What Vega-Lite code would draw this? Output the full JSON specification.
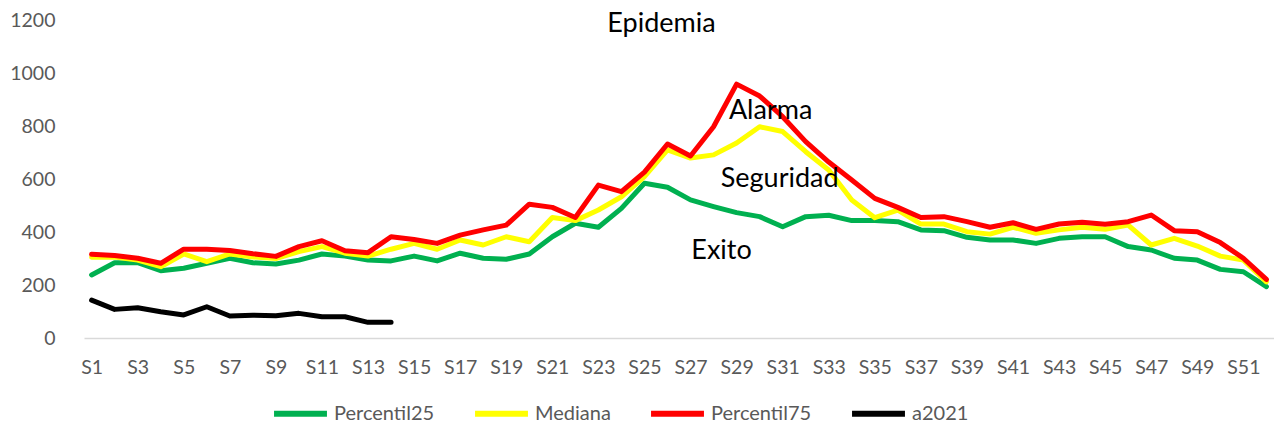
{
  "$schema": "https://vega.github.io/schema/vega-lite/v6.json",
  "autosize": {"type": "none"},
  "padding": {"left": 84, "top": 20, "right": 0, "bottom": 87},
  "width": 1190,
  "height": 318,
  "background": "white",
  "config": {
    "view": {"stroke": null},
    "font": "Lato"
  },
  "datasets": {
    "series": [
      {"semana": "S1", "Percentil25": 238, "Mediana": 305, "Percentil75": 316, "a2021": 143},
      {"semana": "S2", "Percentil25": 284, "Mediana": 306, "Percentil75": 311, "a2021": 108},
      {"semana": "S3", "Percentil25": 284, "Mediana": 294, "Percentil75": 301, "a2021": 114},
      {"semana": "S4", "Percentil25": 254, "Mediana": 269, "Percentil75": 282, "a2021": 99},
      {"semana": "S5", "Percentil25": 263, "Mediana": 317, "Percentil75": 335, "a2021": 87},
      {"semana": "S6", "Percentil25": 282, "Mediana": 288, "Percentil75": 335, "a2021": 118},
      {"semana": "S7", "Percentil25": 301, "Mediana": 317, "Percentil75": 330, "a2021": 83},
      {"semana": "S8", "Percentil25": 284, "Mediana": 306, "Percentil75": 318, "a2021": 86},
      {"semana": "S9", "Percentil25": 279, "Mediana": 300, "Percentil75": 308, "a2021": 84},
      {"semana": "S10", "Percentil25": 294, "Mediana": 326, "Percentil75": 345, "a2021": 93},
      {"semana": "S11", "Percentil25": 317, "Mediana": 345, "Percentil75": 367, "a2021": 80},
      {"semana": "S12", "Percentil25": 309, "Mediana": 320, "Percentil75": 329, "a2021": 80},
      {"semana": "S13", "Percentil25": 294, "Mediana": 309, "Percentil75": 322, "a2021": 59},
      {"semana": "S14", "Percentil25": 291, "Mediana": 335, "Percentil75": 382, "a2021": 59},
      {"semana": "S15", "Percentil25": 309, "Mediana": 357, "Percentil75": 372, "a2021": null},
      {"semana": "S16", "Percentil25": 291, "Mediana": 335, "Percentil75": 357, "a2021": null},
      {"semana": "S17", "Percentil25": 320, "Mediana": 370, "Percentil75": 388, "a2021": null},
      {"semana": "S18", "Percentil25": 301, "Mediana": 351, "Percentil75": 408, "a2021": null},
      {"semana": "S19", "Percentil25": 297, "Mediana": 382, "Percentil75": 426, "a2021": null},
      {"semana": "S20", "Percentil25": 317, "Mediana": 363, "Percentil75": 505, "a2021": null},
      {"semana": "S21", "Percentil25": 382, "Mediana": 455, "Percentil75": 493, "a2021": null},
      {"semana": "S22", "Percentil25": 433, "Mediana": 443, "Percentil75": 455, "a2021": null},
      {"semana": "S23", "Percentil25": 418, "Mediana": 483, "Percentil75": 577, "a2021": null},
      {"semana": "S24", "Percentil25": 489, "Mediana": 533, "Percentil75": 552, "a2021": null},
      {"semana": "S25", "Percentil25": 584, "Mediana": 609, "Percentil75": 626, "a2021": null},
      {"semana": "S26", "Percentil25": 569, "Mediana": 710, "Percentil75": 732, "a2021": null},
      {"semana": "S27", "Percentil25": 521, "Mediana": 679, "Percentil75": 687, "a2021": null},
      {"semana": "S28", "Percentil25": 496, "Mediana": 691, "Percentil75": 797, "a2021": null},
      {"semana": "S29", "Percentil25": 473, "Mediana": 736, "Percentil75": 958, "a2021": null},
      {"semana": "S30", "Percentil25": 458, "Mediana": 797, "Percentil75": 913, "a2021": null},
      {"semana": "S31", "Percentil25": 420, "Mediana": 779, "Percentil75": 835, "a2021": null},
      {"semana": "S32", "Percentil25": 458, "Mediana": 703, "Percentil75": 741, "a2021": null},
      {"semana": "S33", "Percentil25": 463, "Mediana": 634, "Percentil75": 664, "a2021": null},
      {"semana": "S34", "Percentil25": 443, "Mediana": 521, "Percentil75": 596, "a2021": null},
      {"semana": "S35", "Percentil25": 443, "Mediana": 454, "Percentil75": 527, "a2021": null},
      {"semana": "S36", "Percentil25": 439, "Mediana": 483, "Percentil75": 493, "a2021": null},
      {"semana": "S37", "Percentil25": 408, "Mediana": 430, "Percentil75": 455, "a2021": null},
      {"semana": "S38", "Percentil25": 405, "Mediana": 430, "Percentil75": 458, "a2021": null},
      {"semana": "S39", "Percentil25": 380, "Mediana": 401, "Percentil75": 439, "a2021": null},
      {"semana": "S40", "Percentil25": 370, "Mediana": 392, "Percentil75": 418, "a2021": null},
      {"semana": "S41", "Percentil25": 370, "Mediana": 418, "Percentil75": 435, "a2021": null},
      {"semana": "S42", "Percentil25": 357, "Mediana": 395, "Percentil75": 410, "a2021": null},
      {"semana": "S43", "Percentil25": 376, "Mediana": 408, "Percentil75": 430, "a2021": null},
      {"semana": "S44", "Percentil25": 382, "Mediana": 418, "Percentil75": 437, "a2021": null},
      {"semana": "S45", "Percentil25": 382, "Mediana": 410, "Percentil75": 429, "a2021": null},
      {"semana": "S46", "Percentil25": 345, "Mediana": 426, "Percentil75": 439, "a2021": null},
      {"semana": "S47", "Percentil25": 332, "Mediana": 351, "Percentil75": 464, "a2021": null},
      {"semana": "S48", "Percentil25": 301, "Mediana": 376, "Percentil75": 405, "a2021": null},
      {"semana": "S49", "Percentil25": 294, "Mediana": 347, "Percentil75": 401, "a2021": null},
      {"semana": "S50", "Percentil25": 259, "Mediana": 309, "Percentil75": 360, "a2021": null},
      {"semana": "S51", "Percentil25": 250, "Mediana": 294, "Percentil75": 301, "a2021": null},
      {"semana": "S52", "Percentil25": 194, "Mediana": 212, "Percentil75": 221, "a2021": null}
    ],
    "etiquetas": [
      {"etiqueta": "Epidemia", "semana": "S26", "valor": 1185},
      {"etiqueta": "Alarma", "semana": "S30", "valor": 857},
      {"etiqueta": "Seguridad", "semana": "S31", "valor": 600},
      {"etiqueta": "Exito", "semana": "S28", "valor": 328}
    ]
  },
  "layer": [
    {
      "data": {"name": "series"},
      "transform": [
        {"fold": ["Percentil25", "Mediana", "Percentil75", "a2021"], "as": ["serie", "valor"]}
      ],
      "mark": {"type": "line", "strokeWidth": 5, "strokeCap": "round", "strokeJoin": "round"},
      "encoding": {
        "x": {
          "field": "semana",
          "type": "ordinal",
          "scale": {
            "type": "point",
            "padding": 0.33,
            "domain": ["S1","S2","S3","S4","S5","S6","S7","S8","S9","S10","S11","S12","S13","S14","S15","S16","S17","S18","S19","S20","S21","S22","S23","S24","S25","S26","S27","S28","S29","S30","S31","S32","S33","S34","S35","S36","S37","S38","S39","S40","S41","S42","S43","S44","S45","S46","S47","S48","S49","S50","S51","S52"]
          },
          "axis": {
            "title": null,
            "values": ["S1","S3","S5","S7","S9","S11","S13","S15","S17","S19","S21","S23","S25","S27","S29","S31","S33","S35","S37","S39","S41","S43","S45","S47","S49","S51"],
            "labelAngle": 0,
            "ticks": false,
            "domainColor": "#d9d9d9",
            "domainWidth": 1.5,
            "labelColor": "#595959",
            "labelFontSize": 19.5,
            "labelPadding": 20,
            "labelFont": "Lato"
          }
        },
        "y": {
          "field": "valor",
          "type": "quantitative",
          "scale": {"domain": [0, 1200], "nice": false},
          "axis": {
            "title": null,
            "format": "d",
            "values": [0, 200, 400, 600, 800, 1000, 1200],
            "grid": false,
            "domain": false,
            "ticks": false,
            "labelColor": "#595959",
            "labelFontSize": 19.5,
            "labelPadding": 29,
            "labelFont": "Lato"
          }
        },
        "color": {
          "field": "serie",
          "type": "nominal",
          "scale": {
            "domain": ["Percentil25", "Mediana", "Percentil75", "a2021"],
            "range": ["#00B050", "#FFFF00", "#FF0000", "#000000"]
          },
          "legend": {
            "title": null,
            "orient": "none",
            "direction": "horizontal",
            "legendX": 187,
            "legendY": 364,
            "symbolType": "stroke",
            "symbolSize": 2800,
            "symbolStrokeWidth": 6,
            "labelColor": "#595959",
            "labelFontSize": 20,
            "labelFont": "Lato",
            "labelOffset": 4,
            "columnPadding": 28
          }
        }
      }
    },
    {
      "data": {"name": "etiquetas"},
      "transform": [{"filter": "datum.etiqueta === 'Epidemia'"}],
      "mark": {"type": "text", "fontSize": 27, "font": "Lato", "color": "#000000", "align": "center", "baseline": "middle", "dx": -6},
      "encoding": {
        "x": {"field": "semana", "type": "ordinal"},
        "y": {"field": "valor", "type": "quantitative"},
        "text": {"field": "etiqueta"}
      }
    },
    {
      "data": {"name": "etiquetas"},
      "transform": [{"filter": "datum.etiqueta === 'Alarma'"}],
      "mark": {"type": "text", "fontSize": 27, "font": "Lato", "color": "#000000", "align": "center", "baseline": "middle", "dx": 11},
      "encoding": {
        "x": {"field": "semana", "type": "ordinal"},
        "y": {"field": "valor", "type": "quantitative"},
        "text": {"field": "etiqueta"}
      }
    },
    {
      "data": {"name": "etiquetas"},
      "transform": [{"filter": "datum.etiqueta === 'Seguridad'"}],
      "mark": {"type": "text", "fontSize": 27, "font": "Lato", "color": "#000000", "align": "center", "baseline": "middle", "dx": -3},
      "encoding": {
        "x": {"field": "semana", "type": "ordinal"},
        "y": {"field": "valor", "type": "quantitative"},
        "text": {"field": "etiqueta"}
      }
    },
    {
      "data": {"name": "etiquetas"},
      "transform": [{"filter": "datum.etiqueta === 'Exito'"}],
      "mark": {"type": "text", "fontSize": 27, "font": "Lato", "color": "#000000", "align": "center", "baseline": "middle", "dx": 8},
      "encoding": {
        "x": {"field": "semana", "type": "ordinal"},
        "y": {"field": "valor", "type": "quantitative"},
        "text": {"field": "etiqueta"}
      }
    }
  ]
}
